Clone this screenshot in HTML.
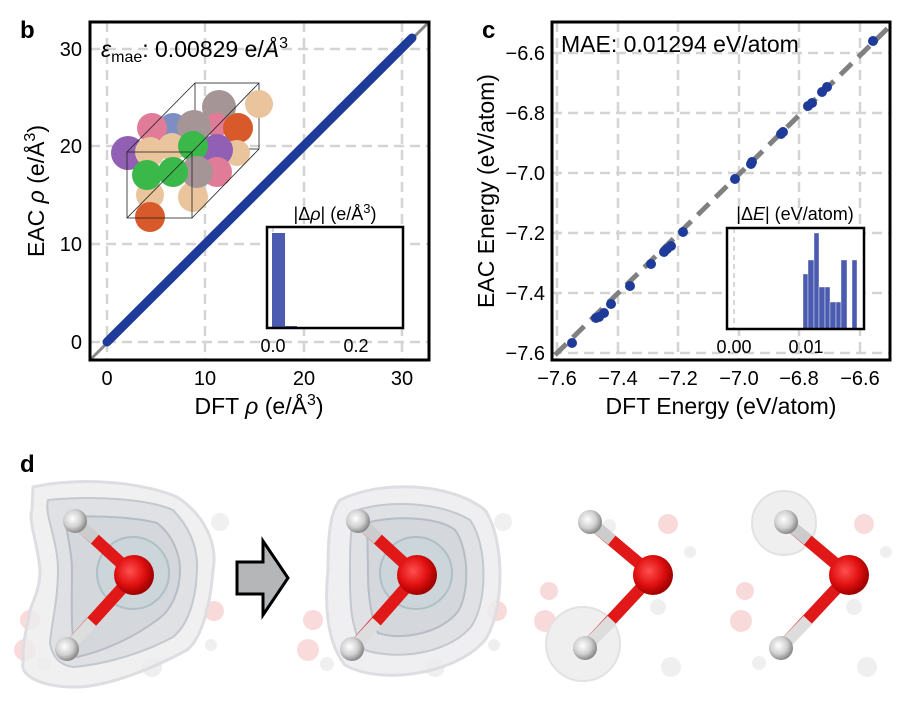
<!DOCTYPE html>
<html><head><meta charset="utf-8"><style>
body{margin:0;background:#fff;width:914px;height:723px;overflow:hidden}
svg text{font-family:"Liberation Sans",Arial,sans-serif}
</style></head><body>
<svg width="914" height="723" viewBox="0 0 914 723" xmlns="http://www.w3.org/2000/svg">
<defs>
<radialGradient id="gO" cx="0.4" cy="0.4" r="0.6"><stop offset="0" stop-color="#ff5050"/><stop offset="0.6" stop-color="#e01010"/><stop offset="1" stop-color="#a00000"/></radialGradient>
<radialGradient id="gH" cx="0.4" cy="0.4" r="0.6"><stop offset="0" stop-color="#ffffff"/><stop offset="0.6" stop-color="#d0d0d0"/><stop offset="1" stop-color="#8a8a8a"/></radialGradient>
<radialGradient id="s" cx="0.4" cy="0.35" r="0.65"><stop offset="0" stop-color="#fff" stop-opacity="0.3"/><stop offset="0.7" stop-color="#000" stop-opacity="0"/><stop offset="1" stop-color="#000" stop-opacity="0.25"/></radialGradient>
</defs>
<!-- Panel b -->
<text x="20" y="38" font-size="24" font-weight="bold">b</text>
<g stroke="#d4d4d4" stroke-width="2.5" stroke-dasharray="10,6">
<line x1="107" y1="22" x2="107" y2="360"/><line x1="205" y1="22" x2="205" y2="360"/><line x1="304" y1="22" x2="304" y2="360"/><line x1="402" y1="22" x2="402" y2="360"/>
<line x1="90" y1="342" x2="429" y2="342"/><line x1="90" y1="244" x2="429" y2="244"/><line x1="90" y1="146" x2="429" y2="146"/><line x1="90" y1="49" x2="429" y2="49"/>
</g>
<line x1="90" y1="360" x2="429" y2="22" stroke="#888" stroke-width="3"/>
<line x1="107" y1="342" x2="412" y2="38" stroke="#1f3b9a" stroke-width="9" stroke-linecap="round"/>
<!-- crystal -->
<g stroke="#222" stroke-width="0.8" fill="none"><rect x="195" y="83" width="64" height="66"/></g>
<g stroke="none">
<circle cx="259" cy="104" r="14" fill="#e9c49c"/><circle cx="219" cy="107" r="17" fill="#a69597"/><circle cx="217" cy="125" r="12" fill="#e07c98"/>
<circle cx="173" cy="128" r="15" fill="#7c8ec4"/><circle cx="152" cy="128" r="15" fill="#e07c98"/><circle cx="194" cy="127" r="17" fill="#a69597"/>
<circle cx="238" cy="128" r="15" fill="#d85a2a"/><circle cx="237" cy="153" r="13" fill="#e9c49c"/><circle cx="217" cy="150" r="16" fill="#9160b4"/>
<circle cx="128" cy="153" r="17" fill="#9160b4"/><circle cx="150" cy="152" r="15" fill="#e9c49c"/><circle cx="172" cy="147" r="14" fill="#e9c49c"/>
<circle cx="193" cy="146" r="15" fill="#3bb84a"/><circle cx="217" cy="172" r="15" fill="#e07c98"/><circle cx="150" cy="195" r="14" fill="#e9c49c"/>
<circle cx="193" cy="197" r="15" fill="#e9c49c"/><circle cx="197" cy="172" r="16" fill="#a69597"/><circle cx="147" cy="175" r="15" fill="#3bb84a"/>
<circle cx="173" cy="172" r="15" fill="#3bb84a"/><circle cx="150" cy="217" r="15" fill="#d85a2a"/>
</g>
<g stroke="#222" stroke-width="0.8" fill="none"><rect x="127" y="152" width="65" height="66"/>
<line x1="127" y1="152" x2="195" y2="83"/><line x1="192" y1="152" x2="259" y2="83"/><line x1="192" y1="218" x2="259" y2="149"/><line x1="127" y1="218" x2="195" y2="149"/></g>
<rect x="90" y="22" width="339" height="338" fill="none" stroke="#000" stroke-width="3"/>
<g font-size="20" text-anchor="middle"><text x="107" y="385">0</text><text x="205" y="385">10</text><text x="304" y="385">20</text><text x="402" y="385">30</text></g>
<g font-size="20" text-anchor="end"><text x="82" y="349">0</text><text x="82" y="251">10</text><text x="82" y="153">20</text><text x="82" y="56">30</text></g>
<text x="259" y="414" font-size="23" text-anchor="middle">DFT <tspan font-style="italic">ρ</tspan> (e/Å<tspan font-size="16" dy="-9">3</tspan><tspan dy="9">)</tspan></text>
<text transform="translate(44,191) rotate(-90)" font-size="23" text-anchor="middle">EAC <tspan font-style="italic">ρ</tspan> (e/Å<tspan font-size="16" dy="-9">3</tspan><tspan dy="9">)</tspan></text>
<text x="101" y="57" font-size="23"><tspan font-style="italic">ε</tspan><tspan font-size="16" dy="5">mae</tspan><tspan dy="-5">: 0.00829 e/</tspan><tspan font-style="italic">Å</tspan><tspan font-size="16" dy="-9">3</tspan></text>
<!-- inset b -->
<rect x="267" y="227" width="136" height="101" fill="#fff"/>
<line x1="273" y1="227" x2="273" y2="328" stroke="#ccc" stroke-width="1.5" stroke-dasharray="5,4"/>
<rect x="272" y="233" width="13" height="95" fill="#4a5bb0"/><rect x="285" y="326" width="12" height="2" fill="#4a5bb0"/>
<rect x="267" y="227" width="136" height="101" fill="none" stroke="#000" stroke-width="2.5"/>
<g font-size="18" text-anchor="middle"><text x="273" y="352">0.0</text><text x="356" y="352">0.2</text></g>
<text x="335" y="220" font-size="18" text-anchor="middle">|Δ<tspan font-style="italic">ρ</tspan>| (e/Å<tspan font-size="13" dy="-7">3</tspan><tspan dy="7">)</tspan></text>

<!-- Panel c -->
<text x="482" y="38" font-size="24" font-weight="bold">c</text>
<g stroke="#d4d4d4" stroke-width="2.5" stroke-dasharray="10,6">
<line x1="557" y1="22" x2="557" y2="360"/><line x1="618" y1="22" x2="618" y2="360"/><line x1="678" y1="22" x2="678" y2="360"/><line x1="739" y1="22" x2="739" y2="360"/><line x1="799" y1="22" x2="799" y2="360"/><line x1="860" y1="22" x2="860" y2="360"/>
<line x1="552" y1="53" x2="890" y2="53"/><line x1="552" y1="113" x2="890" y2="113"/><line x1="552" y1="173" x2="890" y2="173"/><line x1="552" y1="233" x2="890" y2="233"/><line x1="552" y1="293" x2="890" y2="293"/><line x1="552" y1="353" x2="890" y2="353"/>
</g>
<line x1="555" y1="355" x2="890" y2="26" stroke="#808080" stroke-width="5" stroke-dasharray="16,9"/>
<g fill="#1f3b9a">
<circle cx="572" cy="343" r="5"/><circle cx="596" cy="318" r="5"/><circle cx="599" cy="317" r="5"/><circle cx="604" cy="313" r="5"/><circle cx="611" cy="304" r="5"/><circle cx="630" cy="286" r="5"/><circle cx="651" cy="264" r="5"/><circle cx="664" cy="252" r="5"/><circle cx="667" cy="249" r="5"/><circle cx="671" cy="246" r="5"/><circle cx="683" cy="232" r="5"/><circle cx="735" cy="179" r="5"/><circle cx="751" cy="164" r="5"/><circle cx="752" cy="162" r="5"/><circle cx="781" cy="134" r="5"/><circle cx="783" cy="132" r="5"/><circle cx="808" cy="106" r="5"/><circle cx="812" cy="103" r="5"/><circle cx="822" cy="92" r="5"/><circle cx="827" cy="87" r="5"/><circle cx="873" cy="41" r="5"/>
</g>
<rect x="552" y="22" width="338" height="338" fill="none" stroke="#000" stroke-width="3"/>
<g font-size="20" text-anchor="middle"><text x="557" y="385">−7.6</text><text x="618" y="385">−7.4</text><text x="678" y="385">−7.2</text><text x="739" y="385">−7.0</text><text x="799" y="385">−6.8</text><text x="860" y="385">−6.6</text></g>
<g font-size="20" text-anchor="end"><text x="545" y="60">−6.6</text><text x="545" y="120">−6.8</text><text x="545" y="180">−7.0</text><text x="545" y="240">−7.2</text><text x="545" y="300">−7.4</text><text x="545" y="360">−7.6</text></g>
<text x="721" y="414" font-size="23" text-anchor="middle">DFT Energy (eV/atom)</text>
<text transform="translate(494,191) rotate(-90)" font-size="23" text-anchor="middle">EAC Energy (eV/atom)</text>
<text x="561" y="52" font-size="23">MAE: 0.01294 eV/atom</text>
<!-- inset c -->
<rect x="727" y="228" width="137" height="101" fill="#fff"/>
<line x1="734" y1="228" x2="734" y2="329" stroke="#ccc" stroke-width="1.5" stroke-dasharray="5,4"/>
<g fill="#4a5bb0" stroke="#fff" stroke-width="0.4">
<rect x="803" y="274" width="5" height="55"/><rect x="808" y="260" width="6" height="69"/><rect x="814" y="233" width="5" height="96"/><rect x="819" y="287" width="6" height="42"/><rect x="825" y="287" width="5" height="42"/><rect x="830" y="302" width="6" height="27"/><rect x="836" y="302" width="5" height="27"/><rect x="841" y="260" width="6" height="69"/><rect x="852" y="260" width="5" height="69"/>
</g>
<rect x="727" y="228" width="137" height="101" fill="none" stroke="#000" stroke-width="2.5"/>
<g font-size="18" text-anchor="middle"><text x="734" y="353">0.00</text><text x="806" y="353">0.01</text></g>
<text x="795" y="220" font-size="18" text-anchor="middle">|Δ<tspan font-style="italic">E</tspan>| (eV/atom)</text>

<!-- Panel d -->
<text x="20" y="472" font-size="24" font-weight="bold">d</text>
<g fill="#e88" opacity="0.3">
<circle cx="30" cy="620" r="10"/><circle cx="25" cy="650" r="11"/><circle cx="150" cy="524" r="10"/><circle cx="214" cy="611" r="10"/>
<circle cx="313" cy="620" r="10"/><circle cx="308" cy="650" r="11"/><circle cx="433" cy="524" r="10"/>
<circle cx="549" cy="591" r="9"/><circle cx="545" cy="621" r="11"/><circle cx="668" cy="524" r="10"/><circle cx="497" cy="611" r="10"/>
<circle cx="745" cy="591" r="9"/><circle cx="741" cy="621" r="11"/><circle cx="864" cy="524" r="10"/>
</g>
<g fill="#ccc" opacity="0.3">
<circle cx="220" cy="522" r="9"/><circle cx="152" cy="667" r="10"/><circle cx="44" cy="664" r="7"/><circle cx="211" cy="645" r="6"/>
<circle cx="503" cy="522" r="9"/><circle cx="435" cy="667" r="10"/><circle cx="327" cy="664" r="7"/><circle cx="494" cy="645" r="6"/>
<circle cx="658" cy="607" r="8"/><circle cx="671" cy="667" r="10"/><circle cx="563" cy="663" r="7"/><circle cx="690" cy="552" r="6"/><circle cx="609" cy="526" r="7"/>
<circle cx="854" cy="607" r="8"/><circle cx="867" cy="667" r="10"/><circle cx="759" cy="663" r="7"/><circle cx="886" cy="552" r="6"/><circle cx="806" cy="526" r="7"/>
</g>
<!-- contours mol1 -->
<path d="M33,487 C90,475 150,485 177,497 C205,515 218,545 213,570 C210,610 200,640 187,650 C150,670 110,685 80,687 C40,688 20,675 23,663 C22,640 28,625 30,610 C36,595 40,585 40,570 C38,545 28,520 32,510 Z" fill="#ececee" fill-opacity="0.8" stroke="#dedee2" stroke-width="3"/>
<path d="M48,500 C100,495 150,500 173,510 C192,530 198,550 197,570 C196,600 188,625 173,637 C140,655 100,665 73,667 C58,665 52,655 50,643 C52,620 58,600 58,570 C58,540 44,515 48,500 Z" fill="#dfe1e4" stroke="#c4c8cf" stroke-width="2"/>
<path d="M67,517 C100,515 140,518 157,523 C173,535 180,555 180,570 C180,590 172,610 157,620 C130,640 100,652 77,657 C70,640 72,600 72,570 C72,545 64,530 67,517 Z" fill="#d4d8dc" stroke="#b6bdc6" stroke-width="2"/>
<circle cx="133" cy="573" r="36" fill="#cbd5da" stroke="#aebfc6" stroke-width="2"/>
<!-- contours mol2 -->
<path d="M340,500 C380,480 450,482 485,510 C505,540 505,610 485,640 C455,675 380,685 345,665 C325,640 325,600 328,570 C328,535 330,512 340,500 Z" fill="#ececee" fill-opacity="0.85" stroke="#dedee2" stroke-width="3"/>
<path d="M358,510 C390,500 440,502 470,520 C488,545 488,605 470,628 C445,655 395,660 365,650 C350,630 350,600 350,575 C350,545 350,520 358,510 Z" fill="#dfe1e4" stroke="#c4c8cf" stroke-width="2"/>
<path d="M370,522 C400,515 440,518 455,530 C470,550 470,600 455,615 C435,635 400,640 378,633 C370,615 368,590 368,575 C368,550 366,530 370,522 Z" fill="#d4d8dc" stroke="#b6bdc6" stroke-width="2"/>
<circle cx="416" cy="573" r="36" fill="#cbd5da" stroke="#aebfc6" stroke-width="2"/>
<circle cx="583" cy="644" r="37" fill="#efefef" stroke="#e2e2e2" stroke-width="2"/>
<circle cx="784" cy="523" r="32" fill="#efefef" stroke="#e2e2e2" stroke-width="2"/>
<!-- molecules -->
<g stroke-linecap="butt">
<line x1="75" y1="521" x2="134" y2="575" stroke="#e01818" stroke-width="12"/><line x1="75" y1="521" x2="95" y2="539" stroke="#ccc" stroke-width="12"/>
<line x1="67" y1="649" x2="134" y2="575" stroke="#e01818" stroke-width="12"/><line x1="67" y1="649" x2="92" y2="622" stroke="#ddd" stroke-width="12"/>
<line x1="358" y1="521" x2="417" y2="575" stroke="#e01818" stroke-width="12"/><line x1="358" y1="521" x2="378" y2="539" stroke="#ccc" stroke-width="12"/>
<line x1="352" y1="649" x2="417" y2="575" stroke="#e01818" stroke-width="12"/><line x1="352" y1="649" x2="377" y2="622" stroke="#ddd" stroke-width="12"/>
<line x1="590" y1="522" x2="653" y2="575" stroke="#e01818" stroke-width="12"/><line x1="590" y1="522" x2="612" y2="540" stroke="#ccc" stroke-width="12"/>
<line x1="585" y1="648" x2="653" y2="575" stroke="#e01818" stroke-width="12"/><line x1="585" y1="648" x2="612" y2="620" stroke="#ddd" stroke-width="12"/>
<line x1="786" y1="522" x2="849" y2="575" stroke="#e01818" stroke-width="12"/><line x1="786" y1="522" x2="808" y2="540" stroke="#ccc" stroke-width="12"/>
<line x1="781" y1="648" x2="849" y2="575" stroke="#e01818" stroke-width="12"/><line x1="781" y1="648" x2="808" y2="620" stroke="#ddd" stroke-width="12"/>
</g>
<circle cx="134" cy="575" r="20" fill="url(#gO)"/><circle cx="75" cy="521" r="12" fill="url(#gH)"/><circle cx="67" cy="649" r="12" fill="url(#gH)"/>
<circle cx="417" cy="575" r="20" fill="url(#gO)"/><circle cx="358" cy="521" r="12" fill="url(#gH)"/><circle cx="352" cy="649" r="12" fill="url(#gH)"/>
<circle cx="653" cy="575" r="20" fill="url(#gO)"/><circle cx="590" cy="522" r="12" fill="url(#gH)"/><circle cx="585" cy="648" r="12" fill="url(#gH)"/>
<circle cx="849" cy="575" r="20" fill="url(#gO)"/><circle cx="786" cy="522" r="12" fill="url(#gH)"/><circle cx="781" cy="648" r="12" fill="url(#gH)"/>
<polygon points="237,562 263,562 263,541 288,578 263,615 263,594 237,594" fill="#b4b6b8" stroke="#000" stroke-width="3" stroke-linejoin="miter"/>
</svg>
</body></html>
